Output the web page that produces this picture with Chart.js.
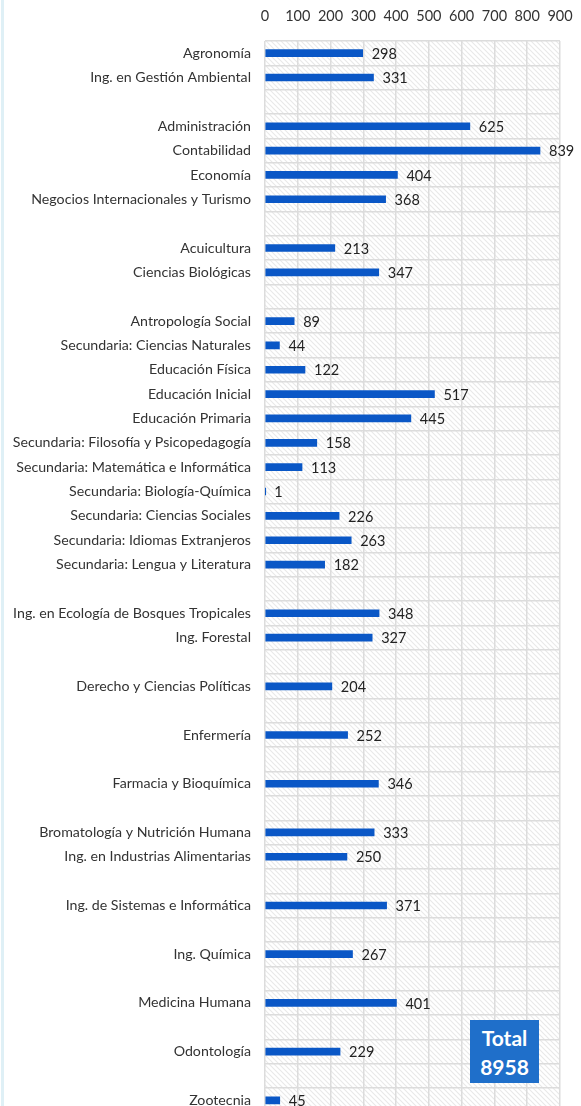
<!DOCTYPE html>
<html>
<head>
<meta charset="utf-8">
<script src="https://cdn.jsdelivr.net/npm/chart.js@4/dist/chart.umd.min.js"></script>
<style>
  html, body { margin:0; padding:0; background:#fff; overflow:hidden; width:581px; height:1106px; }
  #wrap { position:absolute; left:0; top:0; width:581px; height:1135px; }
  #edge { position:absolute; left:1px; top:0; width:3px; height:1106px; background:#dff0f6; }
  #total { position:absolute; left:470px; top:1020px; width:69px; height:63px; background:#1f6fca;
           color:#fff; font-family:Lato, sans-serif; font-weight:bold; font-size:21px; line-height:29px;
           text-align:center; padding-top:3px; box-sizing:border-box; }
</style>
</head>
<body>
<div id="wrap"><canvas id="c" width="581" height="1135"></canvas></div>
<div id="edge"></div>
<div id="total">Total<br>8958</div>
<script>
const categories = [
  "Agronomía", "Ing. en Gestión Ambiental", "",
  "Administración", "Contabilidad", "Economía", "Negocios Internacionales y Turismo", "",
  "Acuicultura", "Ciencias Biológicas", "",
  "Antropología Social", "Secundaria: Ciencias Naturales", "Educación Física", "Educación Inicial",
  "Educación Primaria", "Secundaria: Filosofía y Psicopedagogía", "Secundaria: Matemática e Informática",
  "Secundaria: Biología-Química", "Secundaria: Ciencias Sociales", "Secundaria: Idiomas Extranjeros",
  "Secundaria: Lengua y Literatura", "",
  "Ing. en Ecología de Bosques Tropicales", "Ing. Forestal", "",
  "Derecho y Ciencias Políticas", "",
  "Enfermería", "",
  "Farmacia y Bioquímica", "",
  "Bromatología y Nutrición Humana", "Ing. en Industrias Alimentarias", "",
  "Ing. de Sistemas e Informática", "",
  "Ing. Química", "",
  "Medicina Humana", "",
  "Odontología", "",
  "Zootecnia"
];
const students = [
  298, 331, null,
  625, 839, 404, 368, null,
  213, 347, null,
  89, 44, 122, 517, 445, 158, 113, 1, 226, 263, 182, null,
  348, 327, null,
  204, null,
  252, null,
  346, null,
  333, 250, null,
  371, null,
  267, null,
  401, null,
  229, null,
  45
];
const xTicks = [0, 100, 200, 300, 400, 500, 600, 700, 800, 900];

const FONT = "Lato, 'Open Sans', sans-serif";

function hatchPattern(ctx) {
  const t = document.createElement('canvas');
  t.width = 5; t.height = 5;
  const g = t.getContext('2d');
  g.fillStyle = '#ffffff'; g.fillRect(0,0,5,5);
  g.strokeStyle = '#e8e8e8'; g.lineWidth = 1.1;
  g.beginPath();
  g.moveTo(-1,-1); g.lineTo(6,6);
  g.moveTo(-1,4); g.lineTo(1,6);
  g.moveTo(4,-1); g.lineTo(6,1);
  g.stroke();
  return ctx.createPattern(t, 'repeat');
}

const bgPlugin = {
  id: 'bg',
  beforeDraw(chart) {
    const {ctx, chartArea:a} = chart;
    ctx.save();
    ctx.fillStyle = hatchPattern(ctx);
    ctx.fillRect(a.left, a.top, a.right - a.left, a.bottom - a.top);
    ctx.restore();
  }
};

const labelPlugin = {
  id: 'vals',
  afterDatasetsDraw(chart) {
    const {ctx} = chart;
    const meta = chart.getDatasetMeta(0);
    ctx.save();
    ctx.font = "14.5px " + FONT;
    ctx.fillStyle = '#222';
    ctx.textBaseline = 'middle';
    ctx.textAlign = 'left';
    meta.data.forEach((el, i) => {
      const v = students[i];
      if (v === null) return;
      ctx.fillText(String(v), el.x + 9, el.y + 1);
    });
    ctx.restore();
  }
};

new Chart(document.getElementById('c'), {
  type: 'bar',
  data: {
    labels: categories,
    datasets: [{
      data: students,
      backgroundColor: '#0a57c6',
      barThickness: 7,
      borderWidth: 0
    }]
  },
  options: {
    indexAxis: 'y',
    responsive: false,
    animation: false,
    layout: { padding: { left: 0, right: 21, top: 0, bottom: 0 } },
    plugins: { legend: { display: false }, tooltip: { enabled: false } },
    scales: {
      x: {
        position: 'top',
        min: 0, max: 900,
        afterBuildTicks(scale) { scale.ticks = xTicks.map(v => ({ value: v })); },
        afterFit(scale) { scale.height = 41; scale.paddingLeft = 0; scale.paddingRight = 0; },
        ticks: { color: '#333', font: { family: FONT, size: 14.5 }, padding: 16, maxRotation: 0 },
        grid: { color: '#dcdcdc', lineWidth: 1.5, drawTicks: false },
        border: { display: false }
      },
      y: {
        afterFit(scale) { scale.width = 265; },
        ticks: { color: '#333', font: { family: FONT, size: 14.2 }, padding: 14, autoSkip: false },
        grid: { color: '#dcdcdc', lineWidth: 1.5, drawTicks: false, offset: true },
        border: { display: false }
      }
    }
  },
  plugins: [bgPlugin, labelPlugin]
});
</script>
</body>
</html>
